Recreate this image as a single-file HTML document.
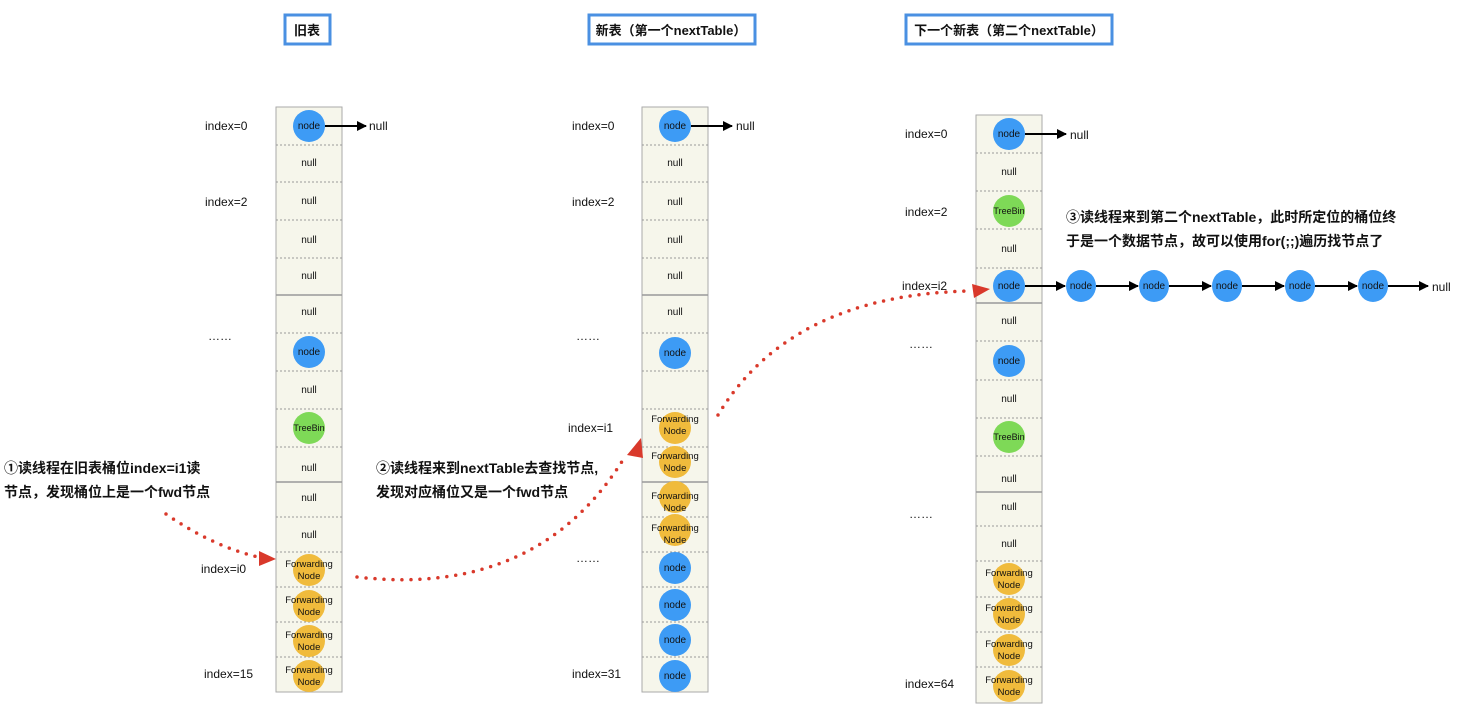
<!DOCTYPE html>
<html><head><meta charset="utf-8"><style>
body{margin:0;background:#fff}
svg text{font-family:"Liberation Sans","Noto Sans CJK SC",sans-serif}
</style></head><body>
<svg width="1460" height="713" viewBox="0 0 1460 713" xmlns="http://www.w3.org/2000/svg">
<defs>
<marker id="ar" markerWidth="10" markerHeight="10" refX="9" refY="5" orient="auto" markerUnits="userSpaceOnUse"><path d="M0,0 L10,5 L0,10z" fill="#000"/></marker>
</defs>
<!-- titles -->
<g font-size="13" font-weight="bold" text-anchor="middle" fill="#111">
<rect x="285" y="15" width="45" height="29" fill="#fff" stroke="#4a90e2" stroke-width="3"/>
<text x="307" y="35">旧表</text>
<rect x="589" y="15" width="166" height="29" fill="#fff" stroke="#4a90e2" stroke-width="3"/>
<text x="671" y="35">新表（第一个nextTable）</text>
<rect x="906" y="15" width="206" height="29" fill="#fff" stroke="#4a90e2" stroke-width="3"/>
<text x="1009" y="35">下一个新表（第二个nextTable）</text>
</g>
<!-- tables -->
<g fill="#f6f6eb" stroke="#aaa" stroke-width="1">
<rect x="276" y="107" width="66" height="585"/>
<rect x="642" y="107" width="66" height="585"/>
<rect x="976" y="115" width="66" height="588"/>
</g>
<g stroke="#999" stroke-dasharray="2 2" stroke-width="1">
<path d="M276 145H342M276 182H342M276 220H342M276 258H342M276 333H342M276 371H342M276 409H342M276 447H342M276 517H342M276 552H342M276 587H342M276 622H342M276 657H342"/>
<path d="M642 145H708M642 182H708M642 220H708M642 258H708M642 333H708M642 371H708M642 409H708M642 447H708M642 517H708M642 552H708M642 587H708M642 622H708M642 657H708"/>
<path d="M976 153H1042M976 191H1042M976 229H1042M976 268H1042M976 341H1042M976 380H1042M976 418H1042M976 456H1042M976 526H1042M976 561H1042M976 597H1042M976 632H1042M976 667H1042"/>
</g>
<g stroke="#999" stroke-width="1.5">
<path d="M276 295H342M276 482H342M642 295H708M642 482H708M976 303H1042M976 492H1042"/>
</g>
<!-- circles -->
<g fill="#3d9bf5">
<circle cx="309" cy="126" r="16"/><circle cx="309" cy="352" r="16"/>
<circle cx="675" cy="126" r="16"/><circle cx="675" cy="353" r="16"/>
<circle cx="675" cy="568" r="16"/><circle cx="675" cy="605" r="16"/><circle cx="675" cy="640" r="16"/><circle cx="675" cy="676" r="16"/>
<circle cx="1009" cy="134" r="16"/><circle cx="1009" cy="286" r="16"/><circle cx="1009" cy="361" r="16"/>
<ellipse cx="1081" cy="286" rx="15" ry="16"/><ellipse cx="1154" cy="286" rx="15" ry="16"/><ellipse cx="1227" cy="286" rx="15" ry="16"/><ellipse cx="1300" cy="286" rx="15" ry="16"/><ellipse cx="1373" cy="286" rx="15" ry="16"/>
</g>
<g fill="#7ed957">
<circle cx="309" cy="428" r="16"/><circle cx="1009" cy="211" r="16"/><circle cx="1009" cy="437" r="16"/>
</g>
<g fill="#f0bb3c">
<circle cx="309" cy="570" r="16"/><circle cx="309" cy="606" r="16"/><circle cx="309" cy="641" r="16"/><circle cx="309" cy="676" r="16"/>
<circle cx="675" cy="428" r="16"/><circle cx="675" cy="462" r="16"/><circle cx="675" cy="497" r="16"/><circle cx="675" cy="530" r="16"/>
<circle cx="1009" cy="579" r="16"/><circle cx="1009" cy="614" r="16"/><circle cx="1009" cy="650" r="16"/><circle cx="1009" cy="686" r="16"/>
</g>
<!-- arrows -->
<g stroke="#000" stroke-width="2" marker-end="url(#ar)">
<path d="M325 126H366"/><path d="M691 126H732"/><path d="M1025 134H1066"/>
<path d="M1025 286H1065"/><path d="M1096 286H1138"/><path d="M1169 286H1211"/><path d="M1242 286H1284"/><path d="M1315 286H1357"/><path d="M1388 286H1428"/>
</g>
<!-- cell labels -->
<g font-size="10" text-anchor="middle" fill="#111">
<text x="309" y="129">node</text><text x="309" y="355">node</text>
<text x="675" y="129">node</text><text x="675" y="356">node</text>
<text x="675" y="571">node</text><text x="675" y="608">node</text><text x="675" y="643">node</text><text x="675" y="679">node</text>
<text x="1009" y="137">node</text><text x="1009" y="289">node</text><text x="1009" y="364">node</text>
<text x="1081" y="289">node</text><text x="1154" y="289">node</text><text x="1227" y="289">node</text><text x="1300" y="289">node</text><text x="1373" y="289">node</text>
<text x="309" y="431" font-size="9">TreeBin</text><text x="1009" y="214" font-size="9">TreeBin</text><text x="1009" y="440" font-size="9">TreeBin</text>
<text x="309" y="166">null</text><text x="309" y="204">null</text><text x="309" y="243">null</text><text x="309" y="279">null</text><text x="309" y="315">null</text><text x="309" y="393">null</text><text x="309" y="471">null</text><text x="309" y="501">null</text><text x="309" y="538">null</text>
<text x="675" y="166">null</text><text x="675" y="205">null</text><text x="675" y="243">null</text><text x="675" y="279">null</text><text x="675" y="315">null</text>
<text x="1009" y="175">null</text><text x="1009" y="252">null</text><text x="1009" y="324">null</text><text x="1009" y="402">null</text><text x="1009" y="482">null</text><text x="1009" y="510">null</text><text x="1009" y="547">null</text>
</g>
<g font-size="9.5" text-anchor="middle" fill="#111">
<text x="309" y="567">Forwarding</text><text x="309" y="579">Node</text>
<text x="309" y="603">Forwarding</text><text x="309" y="615">Node</text>
<text x="309" y="638">Forwarding</text><text x="309" y="650">Node</text>
<text x="309" y="673">Forwarding</text><text x="309" y="685">Node</text>
<text x="675" y="422">Forwarding</text><text x="675" y="434">Node</text>
<text x="675" y="459">Forwarding</text><text x="675" y="471">Node</text>
<text x="675" y="499">Forwarding</text><text x="675" y="511">Node</text>
<text x="675" y="531">Forwarding</text><text x="675" y="543">Node</text>
<text x="1009" y="576">Forwarding</text><text x="1009" y="588">Node</text>
<text x="1009" y="611">Forwarding</text><text x="1009" y="623">Node</text>
<text x="1009" y="647">Forwarding</text><text x="1009" y="659">Node</text>
<text x="1009" y="683">Forwarding</text><text x="1009" y="695">Node</text>
</g>
<!-- outside labels -->
<g font-size="12" fill="#111">
<text x="369" y="130">null</text><text x="736" y="130">null</text><text x="1070" y="139">null</text><text x="1432" y="291">null</text>
<text x="205" y="130">index=0</text><text x="205" y="206">index=2</text><text x="208" y="340">……</text><text x="201" y="573">index=i0</text><text x="204" y="678">index=15</text>
<text x="572" y="130">index=0</text><text x="572" y="206">index=2</text><text x="576" y="340">……</text><text x="568" y="432">index=i1</text><text x="576" y="562">……</text><text x="572" y="678">index=31</text>
<text x="905" y="138">index=0</text><text x="905" y="216">index=2</text><text x="902" y="290">index=i2</text><text x="909" y="348">……</text><text x="909" y="518">……</text><text x="905" y="688">index=64</text>
</g>
<g font-size="14" font-weight="bold" fill="#111">
<text x="4" y="473">①读线程在旧表桶位index=i1读</text>
<text x="4" y="497">节点，发现桶位上是一个fwd节点</text>
<text x="376" y="473">②读线程来到nextTable去查找节点,</text>
<text x="376" y="497">发现对应桶位又是一个fwd节点</text>
<text x="1066" y="222">③读线程来到第二个nextTable，此时所定位的桶位终</text>
<text x="1066" y="246">于是一个数据节点，故可以使用for(;;)遍历找节点了</text>
</g>
<!-- red dotted curves -->
<g fill="none" stroke="#d9392b" stroke-width="3.5" stroke-linecap="round" stroke-dasharray="0 9">
<path d="M166 514 Q212 546 258 557"/>
<path d="M357 577 Q540 598 626 455"/>
<path d="M718 415 Q790 295 970 291"/>
</g>
<g fill="#d9392b">
<path d="M259 551 L276 559 L259 566z"/>
<path d="M627 455 L641 438 L643 458z"/>
<path d="M972 284 L990 289 L974 298z"/>
</g>
</svg>
</body></html>
